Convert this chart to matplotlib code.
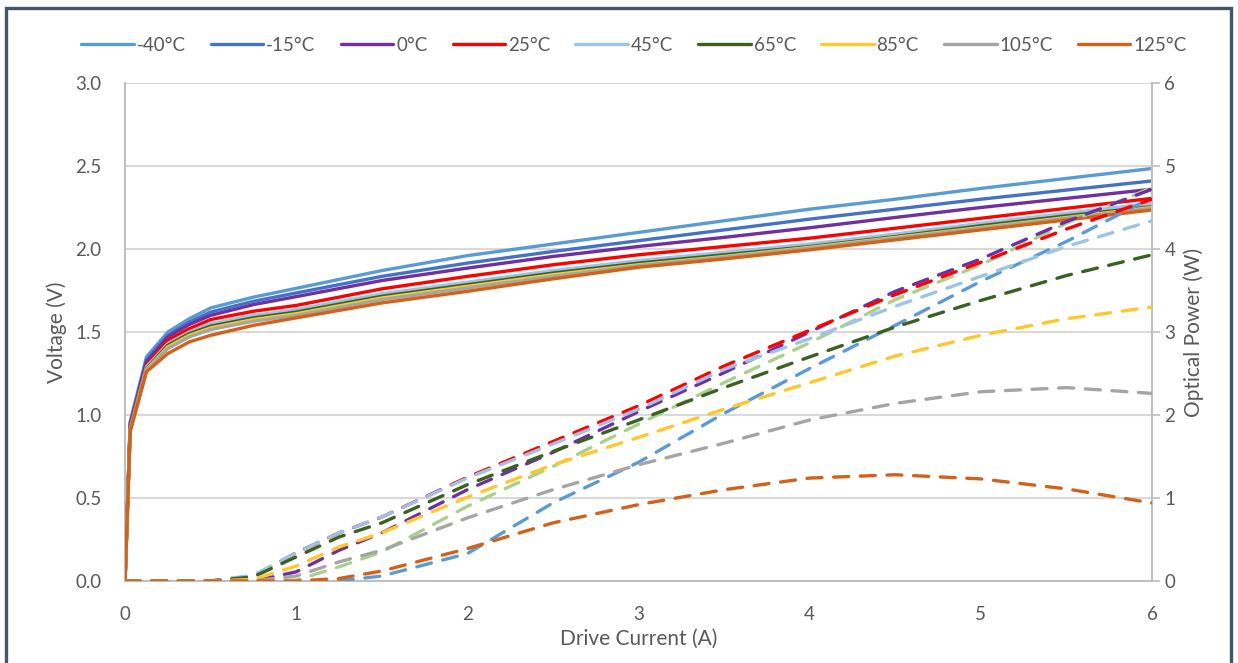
import matplotlib
matplotlib.use("Agg")
import matplotlib.pyplot as plt
from matplotlib.patches import Rectangle

plt.rcParams['font.family'] = ['Lato', 'DejaVu Sans']

temps = ['-40°C', '-15°C', '0°C', '25°C', '45°C', '65°C', '85°C', '105°C', '125°C']
volt_colors = ['#5B9BD5', '#4472C4', '#7030A0', '#FF0000', '#9DC3E6',
               '#3B6120', '#FFC72C', '#A5A5A5', '#D2621A']
power_colors = ['#5B9BD5', '#A9D18E', '#7030A0', '#FF0000', '#9DC3E6',
                '#3B6120', '#FFC72C', '#A5A5A5', '#D2621A']

# drive current for the I-V sweep (A)
current_v = [0, 0.03, 0.125, 0.25, 0.375, 0.5, 0.75, 1, 1.5, 2, 2.5, 3, 3.5, 4, 4.5, 5, 5.5, 6]

volt_m40 = [0, 0.96, 1.35, 1.50, 1.58, 1.645, 1.71, 1.763, 1.87, 1.96, 2.03, 2.10, 2.17, 2.24, 2.30, 2.365, 2.425, 2.485]
volt_m15 = [0, 0.95, 1.33, 1.48, 1.56, 1.62, 1.685, 1.735, 1.835, 1.915, 1.985, 2.05, 2.115, 2.18, 2.24, 2.30, 2.355, 2.41]
volt_0 = [0, 0.94, 1.32, 1.47, 1.545, 1.60, 1.665, 1.713, 1.81, 1.885, 1.955, 2.015, 2.07, 2.128, 2.19, 2.25, 2.305, 2.36]
volt_25 = [0, 0.93, 1.30, 1.45, 1.52, 1.575, 1.625, 1.66, 1.76, 1.835, 1.905, 1.965, 2.015, 2.065, 2.125, 2.185, 2.245, 2.305]
volt_45 = [0, 0.92, 1.29, 1.43, 1.50, 1.55, 1.60, 1.635, 1.73, 1.80, 1.87, 1.93, 1.98, 2.03, 2.09, 2.155, 2.215, 2.275]
volt_65 = [0, 0.915, 1.28, 1.42, 1.49, 1.535, 1.585, 1.62, 1.715, 1.785, 1.855, 1.915, 1.965, 2.015, 2.075, 2.14, 2.20, 2.255]
volt_85 = [0, 0.91, 1.275, 1.41, 1.48, 1.525, 1.575, 1.61, 1.705, 1.775, 1.845, 1.905, 1.955, 2.01, 2.07, 2.13, 2.19, 2.25]
volt_105 = [0, 0.905, 1.27, 1.40, 1.47, 1.515, 1.565, 1.60, 1.695, 1.765, 1.835, 1.90, 1.95, 2.005, 2.065, 2.125, 2.185, 2.245]
volt_125 = [0, 0.90, 1.26, 1.37, 1.44, 1.48, 1.54, 1.585, 1.675, 1.745, 1.82, 1.89, 1.94, 1.995, 2.055, 2.115, 2.175, 2.235]

# drive current for the L-I sweep (A)
current_p = [0, 0.5, 0.75, 1, 1.25, 1.5, 2, 2.5, 3, 3.5, 4, 4.5, 5, 5.5, 6]

power_m40 = [0, 0, 0, 0, 0, 0.06, 0.33, 0.94, 1.43, 2.02, 2.56, 3.08, 3.61, 4.09, 4.62]
power_m15 = [0, 0, 0, 0.01, 0.17, 0.35, 0.90, 1.38, 1.89, 2.39, 2.87, 3.39, 3.81, 4.31, 4.74]
power_0 = [0, 0, 0, 0.11, 0.37, 0.58, 1.10, 1.55, 2.04, 2.51, 3.00, 3.49, 3.88, 4.33, 4.72]
power_25 = [0, 0, 0.06, 0.34, 0.58, 0.77, 1.25, 1.68, 2.11, 2.59, 3.02, 3.45, 3.84, 4.24, 4.60]
power_45 = [0, 0, 0.07, 0.34, 0.58, 0.77, 1.24, 1.65, 2.07, 2.55, 2.92, 3.31, 3.67, 4.03, 4.34]
power_65 = [0, 0, 0.05, 0.29, 0.53, 0.70, 1.16, 1.56, 1.94, 2.33, 2.70, 3.06, 3.38, 3.68, 3.93]
power_85 = [0, 0, 0.02, 0.18, 0.41, 0.58, 1.01, 1.40, 1.73, 2.07, 2.39, 2.71, 2.96, 3.16, 3.30]
power_105 = [0, 0, 0, 0.06, 0.23, 0.37, 0.76, 1.10, 1.40, 1.66, 1.94, 2.14, 2.28, 2.33, 2.26]
power_125 = [0, 0, 0, 0, 0.03, 0.12, 0.39, 0.70, 0.92, 1.10, 1.24, 1.28, 1.23, 1.11, 0.94]

volts = [volt_m40, volt_m15, volt_0, volt_25, volt_45, volt_65, volt_85, volt_105, volt_125]
powers = [power_m40, power_m15, power_0, power_25, power_45, power_65, power_85, power_105, power_125]

text_col = '#595959'
grid_col = '#D9D9D9'

fig = plt.figure(figsize=(12.38, 6.63), dpi=100)
ax = fig.add_axes([0.101, 0.1237, 0.8295, 0.7511])
ax2 = ax.twinx()

handles = []
for v, c, t in zip(volts, volt_colors, temps):
    h, = ax.plot(current_v, v, color=c, lw=2.4, label=t, solid_capstyle='round', zorder=3)
    handles.append(h)

for p, c in zip(powers, power_colors):
    ax2.plot(current_p, p, color=c, lw=2.4, ls=(0, (4.5, 3.5)), dash_capstyle='round', zorder=4)

ax.set_xlim(0, 6)
ax.set_ylim(0, 3)
ax2.set_ylim(0, 6)
ax.set_xticks(range(7))
ax.set_yticks([0, 0.5, 1.0, 1.5, 2.0, 2.5, 3.0])
ax.set_yticklabels(['%.1f' % y for y in ax.get_yticks()])
ax2.set_yticks(range(7))

ax.yaxis.grid(True, color=grid_col, lw=1.5, zorder=0)
ax.set_axisbelow(True)

for a in (ax, ax2):
    for s in a.spines.values():
        s.set_visible(False)
ax.spines['left'].set_visible(True)
ax.spines['left'].set_color('#BFBFBF')
ax.spines['left'].set_linewidth(1.5)
ax2.spines['right'].set_visible(True)
ax2.spines['right'].set_color('#BFBFBF')
ax2.spines['right'].set_linewidth(1.5)
ax.spines['bottom'].set_visible(True)
ax.spines['bottom'].set_color('#BFBFBF')
ax.spines['bottom'].set_linewidth(1.5)

ax.tick_params(axis='x', length=0, pad=18, labelsize=13.5, labelcolor=text_col)
ax.tick_params(axis='y', length=0, pad=17, labelsize=13.5, labelcolor=text_col)
ax2.tick_params(axis='y', length=6, width=1.2, color='#BFBFBF', pad=3,
                labelsize=13.5, labelcolor=text_col)

ax.set_xlabel('Drive Current (A)', fontsize=15, color=text_col, labelpad=4)
ax.set_ylabel('Voltage (V)', fontsize=15, color=text_col, labelpad=6)
ax2.set_ylabel('Optical Power (W)', fontsize=15, color=text_col, labelpad=6)

fig.legend(handles=handles, loc='center', bbox_to_anchor=(0.512, 0.932), ncol=9,
           frameon=False, fontsize=13.5, handlelength=2.8, handletextpad=0.15,
           columnspacing=1.35, labelcolor=text_col)

# dark outer frame
fig.add_artist(Rectangle((0.0048, -0.05), 0.9895, 1.038, transform=fig.transFigure,
                         fill=False, ec='#44546A', lw=2.4, clip_on=False))

fig.savefig('out.png', dpi=100)
